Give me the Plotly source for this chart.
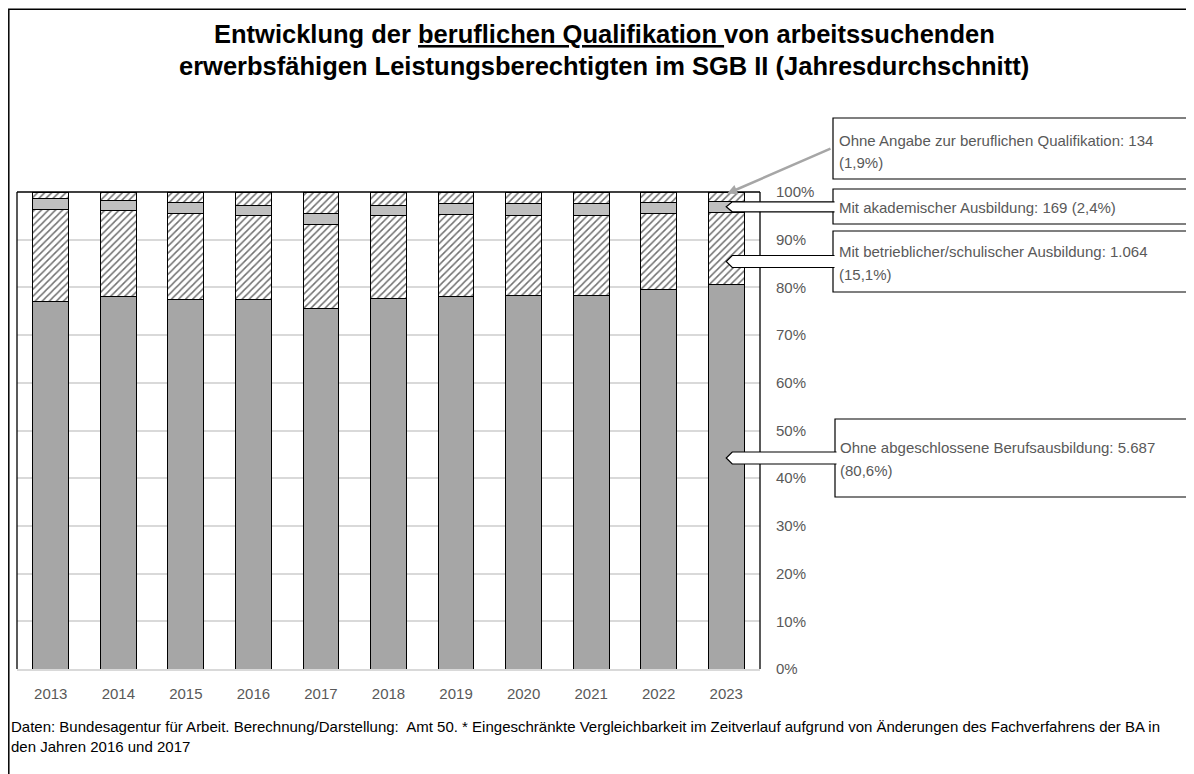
import plotly.graph_objects as go

# ---------------- data ----------------
years = ["2013", "2014", "2015", "2016", "2017", "2018", "2019", "2020", "2021", "2022", "2023"]
ohne_abschluss = [77.1, 78.0, 77.5, 77.5, 75.5, 77.6, 78.1, 78.2, 78.3, 79.6, 80.6]
betrieblich = [19.3, 18.1, 18.0, 17.5, 17.6, 17.4, 17.2, 16.8, 16.7, 15.9, 15.1]
akademisch = [2.3, 2.2, 2.2, 2.2, 2.3, 2.1, 2.3, 2.6, 2.6, 2.2, 2.4]
ohne_angabe = [1.3, 1.7, 2.3, 2.8, 4.6, 2.9, 2.4, 2.4, 2.4, 2.3, 1.9]

y_ticks = [0, 10, 20, 30, 40, 50, 60, 70, 80, 90, 100]
y_ticktext = [f"{v}%" for v in y_ticks]

callout_lines = {
    "angabe": ["Ohne Angabe zur beruflichen Qualifikation: 134", "(1,9%)"],
    "akad": ["Mit akademischer Ausbildung: 169 (2,4%)"],
    "betr": ["Mit betrieblicher/schulischer Ausbildung: 1.064", "(15,1%)"],
    "ohne": ["Ohne abgeschlossene Berufsausbildung: 5.687", "(80,6%)"],
}
title_lines = [
    "<b>Entwicklung der <u>beruflichen Qualifikation </u>von arbeitssuchenden</b>",
    "<b>erwerbsfähigen Leistungsberechtigten im SGB II (Jahresdurchschnitt)</b>",
]
footer_lines = [
    "Daten: Bundesagentur für Arbeit. Berechnung/Darstellung:  Amt 50. * Eingeschränkte Vergleichbarkeit im Zeitverlauf aufgrund von Änderungen des Fachverfahrens der BA in",
    "den Jahren 2016 und 2017",
]

# ---------------- layout geometry (page pixel coordinates) ----------------
PAGE_W, PAGE_H = 1194, 774
OFF = 8  # default body margin of the html page
W, H = PAGE_W - OFF, PAGE_H - OFF
L, R, T, B = 17, 760, 192, 669  # plot area in page pixels
FONT = "Liberation Sans Narrow, Arial Narrow, Liberation Sans, Arial, sans-serif"
GRAY_TXT = "#595959"


def px(x):
    return (x - L) / (R - L)


def py(y):
    return (B - y) / (B - T)


def vy(v):  # data value (%) -> page pixel y
    return B - v / 100 * (B - T)


fig = go.Figure()

hatch = dict(shape="/", fgcolor="#707070", bgcolor="white", size=5, solidity=0.3, fillmode="replace")
fig.add_trace(go.Bar(x=years, y=ohne_abschluss, name="Ohne abgeschlossene Berufsausbildung",
                     marker=dict(color="#a6a6a6", line=dict(color="black", width=1))))
fig.add_trace(go.Bar(x=years, y=betrieblich, name="Mit betrieblicher/schulischer Ausbildung",
                     marker=dict(color="white", pattern=hatch, line=dict(color="black", width=1))))
fig.add_trace(go.Bar(x=years, y=akademisch, name="Mit akademischer Ausbildung",
                     marker=dict(color="#bfbfbf", line=dict(color="black", width=1))))
fig.add_trace(go.Bar(x=years, y=ohne_angabe, name="Ohne Angabe zur beruflichen Qualifikation",
                     marker=dict(color="white", pattern=hatch, line=dict(color="black", width=1))))

shapes = []
annotations = []

# outer frame (left + top edges)
shapes.append(dict(type="rect", xref="paper", yref="paper", x0=px(OFF + 0.8), x1=px(1230), y0=py(OFF + 1.2),
                   y1=py(800), line=dict(color="black", width=1.5), fillcolor="rgba(0,0,0,0)", layer="below"))
# plot border (left, top, right)
for (x0, y0, x1, y1) in [(L, B, L, T), (L, T, R, T), (R, T, R, B)]:
    shapes.append(dict(type="line", xref="paper", yref="paper", x0=px(x0), y0=py(y0), x1=px(x1), y1=py(y1),
                       line=dict(color="black", width=1.3)))

# callout boxes
boxes = {
    "angabe": (833, 118, 1190, 179),
    "akad": (833, 189, 1190, 224),
    "betr": (833, 231, 1190, 292),
    "ohne": (835, 419, 1190, 497),
}
for key, (x0, y0, x1, y1) in boxes.items():
    shapes.append(dict(type="rect", xref="paper", yref="paper", x0=px(x0), x1=px(x1), y0=py(y0), y1=py(y1),
                       line=dict(color="black", width=1.2), fillcolor="white"))

# pointer tips
x_2023 = L + (len(years) - 0.5) * (R - L) / len(years)
akad_mid = ohne_abschluss[-1] + betrieblich[-1] + akademisch[-1] / 2
pointers = [
    ("akad", vy(akad_mid), 5),
    ("betr", 261.5, 6),
    ("ohne", 458.0, 6),
]
for key, ty, hh in pointers:
    bx = boxes[key][0] + 1.5
    tipx = x_2023
    sx = tipx + 6
    path = (f"M {px(bx)},{py(ty - hh)} L {px(sx)},{py(ty - hh)} L {px(tipx)},{py(ty)} "
            f"L {px(sx)},{py(ty + hh)} L {px(bx)},{py(ty + hh)}")
    shapes.append(dict(type="path", xref="paper", yref="paper", path=path,
                       line=dict(color="black", width=1.2), fillcolor="white"))

# gray arrow for "Ohne Angabe"
tip_angabe_y = vy(100 - ohne_angabe[-1] / 2) - 3
annotations.append(dict(xref="paper", yref="paper", x=px(x_2023 + 1), y=py(tip_angabe_y), text="",
                        showarrow=True, ax=832 - (x_2023 + 1), ay=148 - tip_angabe_y,
                        arrowcolor="#a6a6a6", arrowwidth=2.5, arrowhead=2, arrowsize=0.8, standoff=0))

# callout texts
text_pos = {
    "angabe": (837, [140, 162.5]),
    "akad": (837, [207.3]),
    "betr": (837, [251.7, 274]),
    "ohne": (838, [447, 470]),
}
for key, (tx, ys) in text_pos.items():
    for line, yy in zip(callout_lines[key], ys):
        annotations.append(dict(xref="paper", yref="paper", x=px(tx), y=py(yy), text=line, showarrow=False,
                                xanchor="left", yanchor="middle",
                                font=dict(family=FONT, size=15, color=GRAY_TXT)))

# title
for line, yy in zip(title_lines, [34, 66]):
    annotations.append(dict(xref="paper", yref="paper", x=px(604), y=py(yy), text=line, showarrow=False,
                            xanchor="center", yanchor="middle",
                            font=dict(family=FONT, size=25.5, color="black")))

# footer
for line, yy in zip(footer_lines, [726.7, 746.7]):
    annotations.append(dict(xref="paper", yref="paper", x=px(9), y=py(yy), text=line, showarrow=False,
                            xanchor="left", yanchor="middle",
                            font=dict(family=FONT, size=15, color="black")))

fig.update_layout(
    width=W, height=H,
    margin=dict(l=L - OFF, r=PAGE_W - R, t=T - OFF, b=PAGE_H - B, pad=0),
    paper_bgcolor="white", plot_bgcolor="white",
    barmode="stack", bargap=0.47,
    showlegend=False,
    font=dict(family=FONT, size=15, color=GRAY_TXT),
    xaxis=dict(type="category", showgrid=False, showline=True, linecolor="#d9d9d9", linewidth=1.5,
               ticks="", ticklabelstandoff=10, tickfont=dict(family=FONT, size=15, color=GRAY_TXT)),
    yaxis=dict(side="right", range=[0, 100], tickvals=y_ticks, ticktext=y_ticktext,
               showgrid=True, gridcolor="#d9d9d9", gridwidth=1.5, zeroline=False, showline=False,
               ticks="", ticklabelstandoff=15, tickfont=dict(family=FONT, size=15, color=GRAY_TXT)),
    shapes=shapes,
    annotations=annotations,
)

fig.write_html("out.html")
